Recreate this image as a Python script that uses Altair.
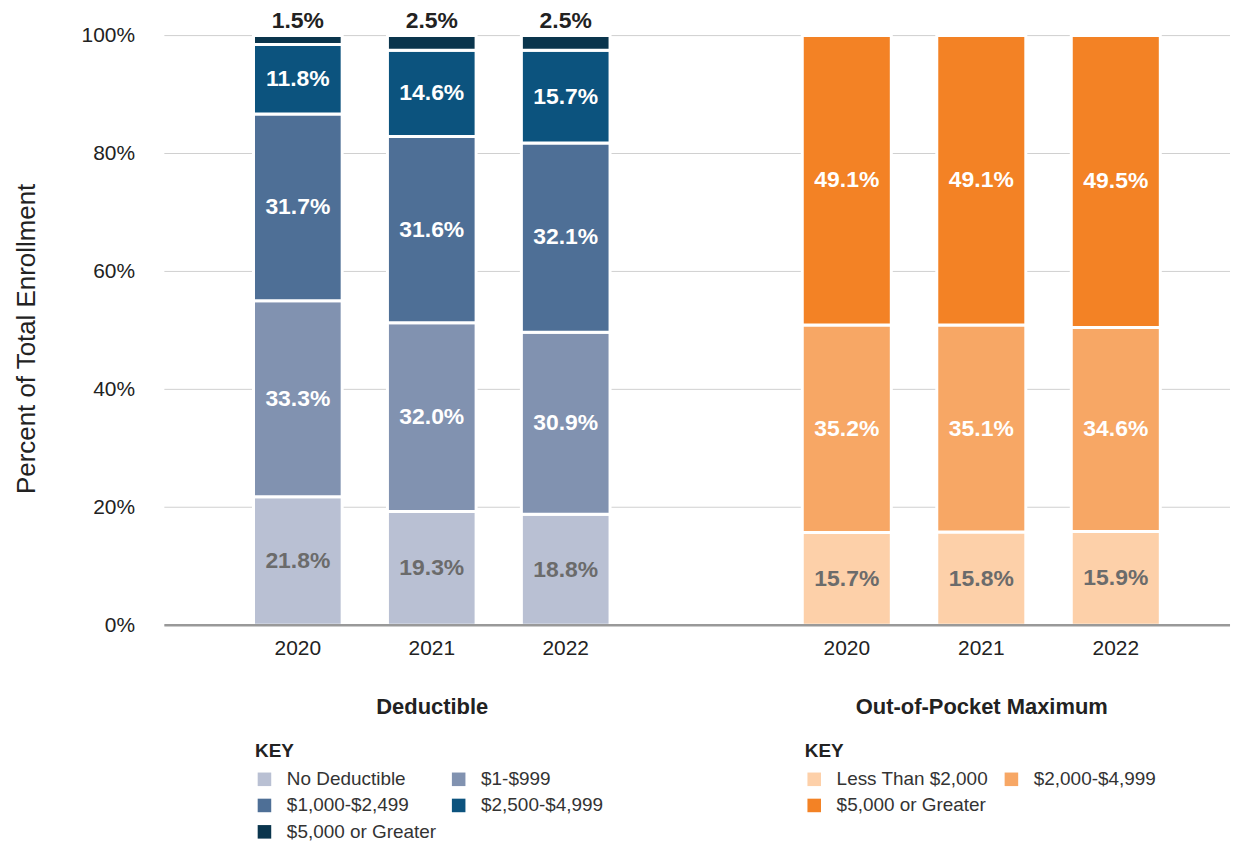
import altair as alt
import pandas as pd

# ---------------- data ----------------
years = ["2020", "2021", "2022"]

ded_categories = ["No Deductible", "$1-$999", "$1,000-$2,499", "$2,500-$4,999", "$5,000 or Greater"]
ded_no_deductible = [21.8, 19.3, 18.8]
ded_1_999 = [33.3, 32.0, 30.9]
ded_1000_2499 = [31.7, 31.6, 32.1]
ded_2500_4999 = [11.8, 14.6, 15.7]
ded_5000_plus = [1.5, 2.5, 2.5]
ded_colors = ["#b9c0d3", "#8192b0", "#4e6f96", "#0c537e", "#0a354d"]
# legend entries fill column by column: this order reads row by row as in the key
ded_legend_order = ["No Deductible", "$1,000-$2,499", "$5,000 or Greater", "$1-$999", "$2,500-$4,999"]

oop_categories = ["Less Than $2,000", "$2,000-$4,999", "$5,000 or Greater"]
oop_lt_2000 = [15.7, 15.8, 15.9]
oop_2000_4999 = [35.2, 35.1, 34.6]
oop_5000_plus = [49.1, 49.1, 49.5]
oop_colors = ["#fdd0a9", "#f7a765", "#f38225"]
oop_legend_order = ["Less Than $2,000", "$5,000 or Greater", "$2,000-$4,999"]

group_titles = ["Deductible", "Out-of-Pocket Maximum"]
y_title = "Percent of Total Enrollment"
legend_title = "KEY"
y_ticks = [0, 0.2, 0.4, 0.6, 0.8, 1.0]

FONT = "Liberation Sans"


def build_frame(categories, series):
    rows = []
    for ci, (cat, vals) in enumerate(zip(categories, series)):
        for yr, v in zip(years, vals):
            rows.append({"year": yr, "cat": cat, "value": v, "ord": ci})
    return pd.DataFrame(rows)


ded_df = build_frame(ded_categories, [ded_no_deductible, ded_1_999, ded_1000_2499,
                                      ded_2500_4999, ded_5000_plus])
oop_df = build_frame(oop_categories, [oop_lt_2000, oop_2000_4999, oop_5000_plus])

# ---------------- shared encodings ----------------
y_axis = alt.Axis(
    title=y_title, format=".0%", values=y_ticks, grid=False,
    domain=False, ticks=False, labelFontSize=21, labelColor="#222222",
    labelPadding=30, titleFontSize=26, titleFontWeight="normal", titleColor="#222222",
    titlePadding=42, titleY=304, labelFont=FONT, titleFont=FONT,
)
y_scale = alt.Scale(domain=[0, 1], nice=False, zero=True)


def y_enc(field):
    return alt.Y(f"{field}:Q", scale=y_scale, axis=y_axis)


def x_enc(rng, title):
    return alt.X(
        "year:N", sort=years,
        scale=alt.Scale(range=rng, paddingInner=0.338, paddingOuter=0),
        axis=alt.Axis(
            title=title, orient="bottom", domain=False, ticks=False, grid=False,
            labelAngle=0, labelFontSize=21, labelColor="#222222", labelPadding=12,
            titleFontSize=22, titleFontWeight="bold", titleColor="#222222",
            titlePadding=39, labelFont=FONT, titleFont=FONT,
        ),
    )


def legend(x, y, order):
    return alt.Legend(
        title=legend_title, orient="none", legendX=x, legendY=y, columns=2,
        values=order, columnPadding=13, rowPadding=6.5, symbolType="square",
        symbolSize=185, symbolStrokeWidth=0, labelFontSize=19, labelColor="#333333",
        labelOffset=13, labelFont=FONT, titleFont=FONT, titleFontSize=19,
        titleFontWeight="bold", titleColor="#222222", titlePadding=9, labelLimit=400,
        padding=0,
    )


def group_layer(df, categories, colors, order, rng, title, lx, ly, top_label):
    x = x_enc(rng, title)
    bars = alt.Chart().mark_bar(stroke="white", strokeWidth=3).encode(
        x=x,
        y=y_enc("y0"),
        y2=alt.Y2("y1:Q"),
        color=alt.Color("cat:N", sort=categories,
                        scale=alt.Scale(domain=categories, range=colors),
                        legend=legend(lx, ly, order)),
    )
    inner_filter = "datum.ord < 4" if top_label else "true"
    texts = alt.Chart().mark_text(
        fontSize=23, fontWeight="bold", baseline="middle", align="center", font=FONT
    ).encode(
        x=x,
        y=y_enc("mid"),
        text="label:N",
        color=alt.condition("datum.ord == 0", alt.value("#6b6b6b"), alt.value("white")),
    ).transform_filter(inner_filter)
    layers = [bars, texts]
    if top_label:
        top = alt.Chart().mark_text(
            fontSize=23, fontWeight="bold", baseline="middle", align="center",
            dy=-15, color="#222222", font=FONT
        ).encode(
            x=x, y=y_enc("y1"), text="label:N"
        ).transform_filter("datum.ord == 4")
        layers.append(top)
    return alt.layer(*layers, data=df).transform_stack(
        stack="value", groupby=["year"], as_=["y0", "y1"], offset="normalize",
        sort=[alt.SortField("ord", order="ascending")],
    ).transform_calculate(
        mid="(datum.y0 + datum.y1) / 2",
        label="format(datum.value, '.1f') + '%'",
    )


gridlines = alt.Chart(pd.DataFrame({"tick": y_ticks})).mark_rule(
    color="#d0d0d0", strokeWidth=1
).encode(y=y_enc("tick"))

ded_layer = group_layer(ded_df, ded_categories, ded_colors, ded_legend_order,
                        [89.5, 447.5], group_titles[0], 91, 709, True)
oop_layer = group_layer(oop_df, oop_categories, oop_colors, oop_legend_order,
                        [640.5, 1000], group_titles[1], 643, 709, False)

baseline = alt.Chart(pd.DataFrame({"base": [0]})).mark_rule(
    color="#999999", strokeWidth=2.5
).encode(y=y_enc("base"))

chart = alt.layer(gridlines, ded_layer, oop_layer, baseline).resolve_scale(
    x="independent", color="independent"
).resolve_axis(x="independent").properties(
    width=1070, height=592,
    autosize=alt.AutoSizeParams(type="none"),
    padding={"left": 157, "top": 26, "right": 5, "bottom": 216},
).configure(font=FONT, background="white").configure_view(stroke=None)

chart.save("out.html", embed_options={"renderer": "svg", "actions": False})
